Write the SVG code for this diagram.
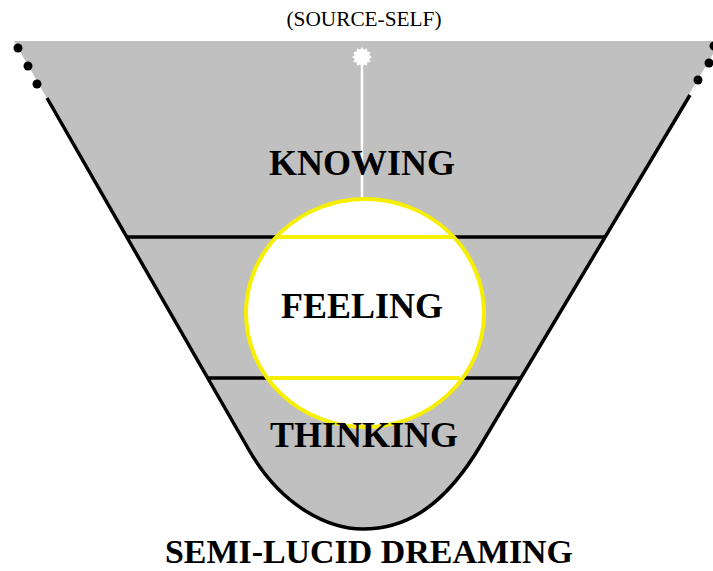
<svg xmlns="http://www.w3.org/2000/svg" width="713" height="571" viewBox="0 0 713 571">
<style>
.edge{fill:none;stroke:#000;stroke-width:3.5}
.dot{fill:#000}
.lbl{font-family:"Liberation Serif","Times New Roman",serif;font-weight:bold;fill:#000;text-anchor:middle}
.chord{stroke:#f6f000;stroke-width:4}
</style>
<rect width="713" height="571" fill="#fff"/>
<g id="funnel">
<path d="M14,41 L713,41 L713,54 L482,443 C440,515 398,529 363,529 C330,529 282,508 249,450 Z" fill="#c0c0c0"/>
<path class="edge" d="M47,98 L249,450 C282,508 330,529 363,529 C398,529 440,515 482,443 L690,95"/>
<circle class="dot" cx="18" cy="48" r="4.5"/>
<circle class="dot" cx="28" cy="66" r="4.5"/>
<circle class="dot" cx="37" cy="84" r="4.5"/>
<circle class="dot" cx="714" cy="46" r="4.5"/>
<circle class="dot" cx="709" cy="63" r="4.5"/>
<circle class="dot" cx="698" cy="80" r="4.5"/>
</g>
<g id="connectors">
<line x1="127" y1="237" x2="605" y2="237" stroke="#000" stroke-width="3.5"/>
<line x1="208" y1="378" x2="521" y2="378" stroke="#000" stroke-width="3.5"/>
<line x1="362" y1="62" x2="362" y2="200" stroke="#fff" stroke-width="2.5"/>
</g>
<g id="source-self">
<polygon fill="#fff" points="372,57 369.2,58.9 370.7,62 367.3,62.2 367,65.7 363.9,64.2 362,67 360.1,64.2 357,65.7 356.7,62.2 353.3,62 354.8,58.9 352,57 354.8,55.1 353.3,52 356.7,51.8 357,48.3 360.1,49.8 362,47 363.9,49.8 367,48.3 367.3,51.8 370.7,52 369.2,55.1"/>
<text x="364" y="26" font-family="Liberation Serif,'Times New Roman',serif" font-size="20" text-anchor="middle" textLength="155" lengthAdjust="spacingAndGlyphs">(SOURCE-SELF)</text>
</g>
<g id="knowing">
<text class="lbl" x="362" y="175" font-size="36">KNOWING</text>
</g>
<g id="feeling">
<ellipse cx="365" cy="313" rx="119" ry="114" fill="#fff" stroke="#f6f000" stroke-width="4"/>
<line class="chord" x1="277" y1="237" x2="453" y2="237"/>
<line class="chord" x1="270" y1="378" x2="460" y2="378"/>
<text class="lbl" x="362" y="318" font-size="36">FEELING</text>
</g>
<g id="thinking">
<text class="lbl" x="364" y="447" font-size="36">THINKING</text>
</g>
<g id="title">
<text class="lbl" x="369" y="563" font-size="34" textLength="408" lengthAdjust="spacingAndGlyphs">SEMI-LUCID DREAMING</text>
</g>
</svg>
